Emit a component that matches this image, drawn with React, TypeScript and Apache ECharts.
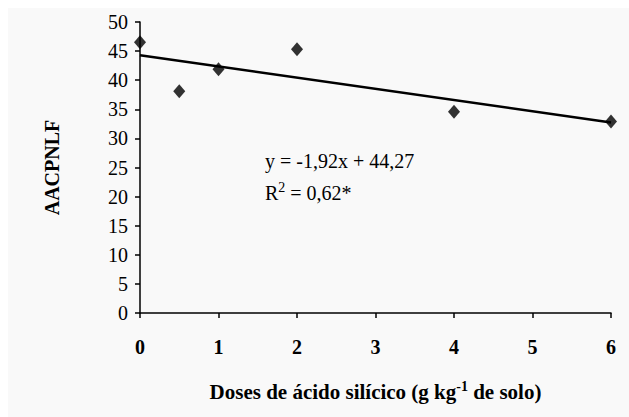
import React, { useEffect, useRef } from "react";
import * as echarts from "echarts";

const doses = [0, 0.5, 1, 2, 4, 6];
const aacpnlf = [46.5, 38.1, 41.9, 45.3, 34.6, 32.9];
const slope = -1.92;
const intercept = 44.27;
const trendX = [0, 6];
const xTicks = [0, 1, 2, 3, 4, 5, 6];
const yTicks = [0, 5, 10, 15, 20, 25, 30, 35, 40, 45, 50];

const FONT = "Liberation Serif";

export default function App() {
  const ref = useRef<HTMLDivElement>(null);
  useEffect(() => {
    const chart = echarts.init(ref.current!, null, { renderer: "svg" });
    const scatterData = doses.map((d, i) => [d, aacpnlf[i]]);
    const trendData = trendX.map((x) => [x, slope * x + intercept]);
    chart.setOption({
      animation: false,
      backgroundColor: "#f9f9f9",
      textStyle: { fontFamily: FONT, color: "#000" },
      grid: { left: 132, right: 18, top: 14, bottom: 104 },
      xAxis: {
        type: "value",
        min: xTicks[0],
        max: xTicks[xTicks.length - 1],
        interval: 1,
        splitLine: { show: false },
        axisLine: { onZero: false, lineStyle: { color: "#000", width: 1.5 } },
        axisTick: { show: true, length: 5, lineStyle: { color: "#000", width: 1.5 } },
        axisLabel: { fontFamily: FONT, fontSize: 20, fontWeight: "bold", color: "#000", margin: 24 },
        name: "{b|Doses de ácido silícico (g kg}{s|-1}{b| de solo)}",
        nameLocation: "middle",
        nameGap: 66,
        nameTextStyle: {
          rich: {
            b: { fontFamily: FONT, fontSize: 21, fontWeight: "bold", color: "#000" },
            s: { fontFamily: FONT, fontSize: 14, fontWeight: "bold", color: "#000", verticalAlign: "top", padding: [0, 0, 12, 0] },
          },
        },
      },
      yAxis: {
        type: "value",
        min: yTicks[0],
        max: yTicks[yTicks.length - 1],
        interval: 5,
        splitLine: { show: false },
        axisLine: { show: true, lineStyle: { color: "#000", width: 1.5 } },
        axisTick: { show: true, length: 5, lineStyle: { color: "#000", width: 1.5 } },
        axisLabel: { fontFamily: FONT, fontSize: 20, color: "#000", margin: 12 },
        name: "AACPNLF",
        nameLocation: "middle",
        nameGap: 78,
        nameRotate: 90,
        nameTextStyle: { fontFamily: FONT, fontSize: 20, fontWeight: "bold", color: "#000" },
      },
      series: [
        {
          type: "line",
          data: trendData,
          symbol: "none",
          lineStyle: { color: "#000", width: 2.5 },
          z: 2,
        },
        {
          type: "scatter",
          data: scatterData,
          symbol: "diamond",
          symbolSize: [12, 14],
          itemStyle: { color: "#000" },
          z: 3,
        },
      ],
      graphic: [
        {
          type: "text",
          left: 257,
          top: 143,
          style: {
            text: "y = -1,92x + 44,27",
            fontFamily: FONT,
            fontSize: 20,
            fill: "#000",
          },
        },
        {
          type: "text",
          left: 257,
          top: 172,
          style: {
            text: "{n|R}{s|2}{n| = 0,62*}",
            rich: {
              n: { fontFamily: FONT, fontSize: 20, fill: "#000", color: "#000" },
              s: { fontFamily: FONT, fontSize: 14, fill: "#000", color: "#000", verticalAlign: "top", padding: [0, 0, 12, 0] },
            },
          },
        },
      ],
    });
    return () => chart.dispose();
  }, []);
  return (
    <div
      ref={ref}
      style={{ position: "absolute", left: 8, top: 8, width: 621, height: 409 }}
    />
  );
}
